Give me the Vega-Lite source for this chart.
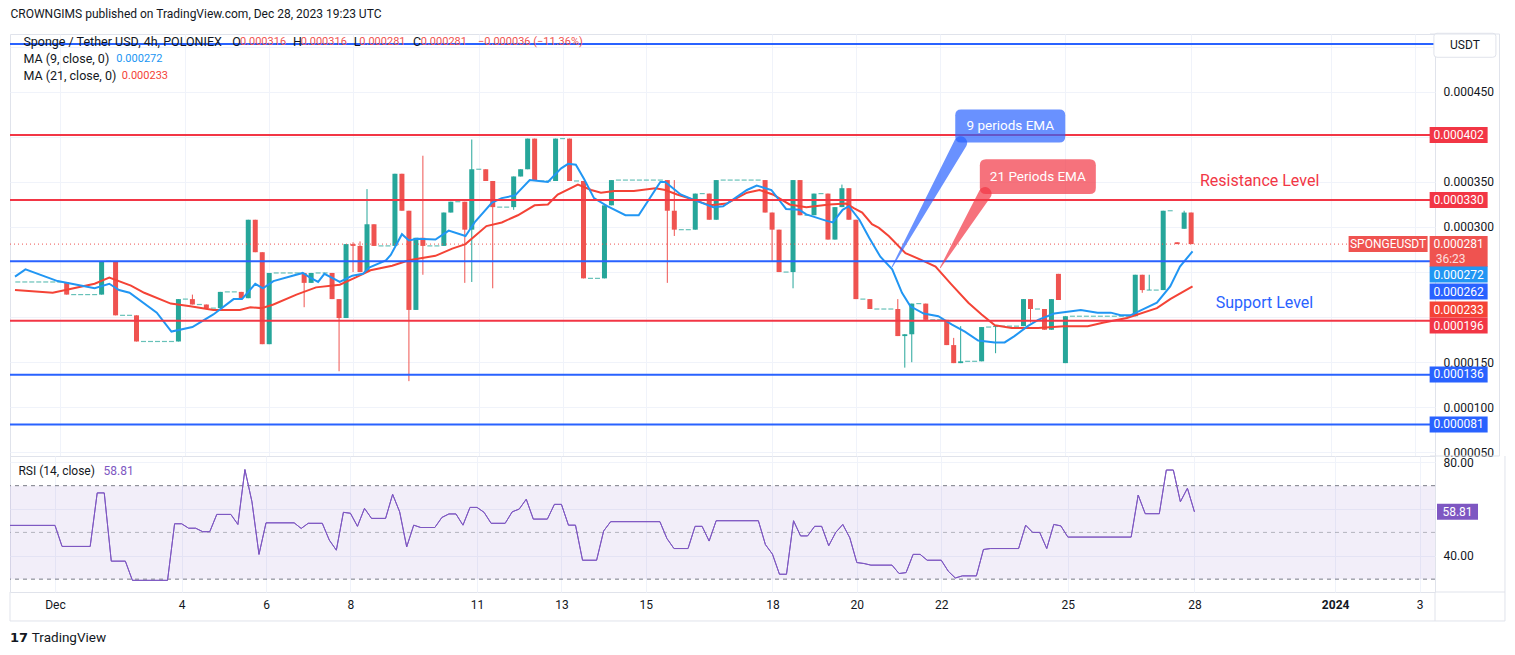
{
  "$schema": "https://vega.github.io/schema/vega-lite/v6.json",
  "background": "#ffffff",
  "padding": {"left": 7, "top": 7, "right": 0, "bottom": 0},
  "bounds": "flush",
  "title": {"text": "CROWNGIMS published on TradingView.com, Dec 28, 2023 19:23 UTC", "anchor": "start", "font": "Roboto", "fontSize": 12, "fontWeight": "normal", "color": "#131722", "offset": 10, "dx": 3},
  "config": {
    "view": {"stroke": "#e0e3eb"},
    "text": {"font": "Roboto"},
    "axis": {"labelFont": "Roboto", "labelFontSize": 12, "labelColor": "#131722", "title": null}
  },
  "datasets": {
    "candles": [
      {"bar": -6, "o": 0.000239, "h": 0.000239, "l": 0.000239, "c": 0.000239},
      {"bar": -5, "o": 0.000239, "h": 0.000239, "l": 0.000239, "c": 0.000239},
      {"bar": -4, "o": 0.000239, "h": 0.000239, "l": 0.000239, "c": 0.000239},
      {"bar": -3, "o": 0.000239, "h": 0.000239, "l": 0.000239, "c": 0.000239},
      {"bar": -2, "o": 0.000239, "h": 0.000239, "l": 0.000239, "c": 0.000239},
      {"bar": -1, "o": 0.000239, "h": 0.000239, "l": 0.000239, "c": 0.000239},
      {"bar": 0, "o": 0.000239, "h": 0.000239, "l": 0.000239, "c": 0.000239},
      {"bar": 1, "o": 0.000239, "h": 0.000239, "l": 0.000225, "c": 0.000225},
      {"bar": 2, "o": 0.000225, "h": 0.000225, "l": 0.000225, "c": 0.000225},
      {"bar": 3, "o": 0.000225, "h": 0.000225, "l": 0.000225, "c": 0.000225},
      {"bar": 4, "o": 0.000225, "h": 0.000225, "l": 0.000225, "c": 0.000225},
      {"bar": 5, "o": 0.000225, "h": 0.000225, "l": 0.000225, "c": 0.000225},
      {"bar": 6, "o": 0.000225, "h": 0.000262, "l": 0.000225, "c": 0.000262},
      {"bar": 7, "o": 0.000262, "h": 0.000262, "l": 0.000262, "c": 0.000262},
      {"bar": 8, "o": 0.000262, "h": 0.000262, "l": 0.000202, "c": 0.000202},
      {"bar": 9, "o": 0.000202, "h": 0.000202, "l": 0.000202, "c": 0.000202},
      {"bar": 10, "o": 0.000202, "h": 0.000202, "l": 0.000202, "c": 0.000202},
      {"bar": 11, "o": 0.000202, "h": 0.000202, "l": 0.000173, "c": 0.000173},
      {"bar": 12, "o": 0.000173, "h": 0.000173, "l": 0.000173, "c": 0.000173},
      {"bar": 13, "o": 0.000173, "h": 0.000173, "l": 0.000173, "c": 0.000173},
      {"bar": 14, "o": 0.000173, "h": 0.000173, "l": 0.000173, "c": 0.000173},
      {"bar": 15, "o": 0.000173, "h": 0.000173, "l": 0.000173, "c": 0.000173},
      {"bar": 16, "o": 0.000173, "h": 0.000173, "l": 0.000173, "c": 0.000173},
      {"bar": 17, "o": 0.000173, "h": 0.00022, "l": 0.000173, "c": 0.00022},
      {"bar": 18, "o": 0.00022, "h": 0.00022, "l": 0.00022, "c": 0.00022},
      {"bar": 19, "o": 0.00022, "h": 0.000225, "l": 0.000214, "c": 0.000214},
      {"bar": 20, "o": 0.000214, "h": 0.000214, "l": 0.000214, "c": 0.000214},
      {"bar": 21, "o": 0.000214, "h": 0.000214, "l": 0.00021, "c": 0.00021},
      {"bar": 22, "o": 0.00021, "h": 0.00021, "l": 0.00021, "c": 0.00021},
      {"bar": 23, "o": 0.00021, "h": 0.000228, "l": 0.00021, "c": 0.000228},
      {"bar": 24, "o": 0.000228, "h": 0.000228, "l": 0.000228, "c": 0.000228},
      {"bar": 25, "o": 0.000228, "h": 0.000228, "l": 0.000228, "c": 0.000228},
      {"bar": 26, "o": 0.000228, "h": 0.000228, "l": 0.000221, "c": 0.000221},
      {"bar": 27, "o": 0.000221, "h": 0.000308, "l": 0.000221, "c": 0.000308},
      {"bar": 28, "o": 0.000308, "h": 0.000308, "l": 0.000272, "c": 0.000272},
      {"bar": 29, "o": 0.000272, "h": 0.000272, "l": 0.00017, "c": 0.00017},
      {"bar": 30, "o": 0.00017, "h": 0.000249, "l": 0.00017, "c": 0.000249},
      {"bar": 31, "o": 0.000249, "h": 0.000249, "l": 0.000249, "c": 0.000249},
      {"bar": 32, "o": 0.000249, "h": 0.000249, "l": 0.000249, "c": 0.000249},
      {"bar": 33, "o": 0.000249, "h": 0.000249, "l": 0.000249, "c": 0.000249},
      {"bar": 34, "o": 0.000249, "h": 0.000249, "l": 0.000249, "c": 0.000249},
      {"bar": 35, "o": 0.000249, "h": 0.000249, "l": 0.000211, "c": 0.000238},
      {"bar": 36, "o": 0.000238, "h": 0.000249, "l": 0.000238, "c": 0.000249},
      {"bar": 37, "o": 0.000249, "h": 0.000249, "l": 0.000249, "c": 0.000249},
      {"bar": 38, "o": 0.000249, "h": 0.000249, "l": 0.000249, "c": 0.000249},
      {"bar": 39, "o": 0.000249, "h": 0.000249, "l": 0.00022, "c": 0.00022},
      {"bar": 40, "o": 0.00022, "h": 0.00022, "l": 0.00014, "c": 0.000199},
      {"bar": 41, "o": 0.000199, "h": 0.000281, "l": 0.000199, "c": 0.000281},
      {"bar": 42, "o": 0.000281, "h": 0.000283, "l": 0.00025, "c": 0.000279},
      {"bar": 43, "o": 0.000279, "h": 0.000284, "l": 0.00025, "c": 0.00025},
      {"bar": 44, "o": 0.00025, "h": 0.000342, "l": 0.00025, "c": 0.000303},
      {"bar": 45, "o": 0.000303, "h": 0.000303, "l": 0.000279, "c": 0.000279},
      {"bar": 46, "o": 0.000279, "h": 0.000279, "l": 0.000279, "c": 0.000279},
      {"bar": 47, "o": 0.000279, "h": 0.000279, "l": 0.000279, "c": 0.000279},
      {"bar": 48, "o": 0.000279, "h": 0.000359, "l": 0.000279, "c": 0.000359},
      {"bar": 49, "o": 0.000359, "h": 0.000359, "l": 0.000318, "c": 0.000318},
      {"bar": 50, "o": 0.000318, "h": 0.000318, "l": 0.000129, "c": 0.000208},
      {"bar": 51, "o": 0.000208, "h": 0.000288, "l": 0.000208, "c": 0.000288},
      {"bar": 52, "o": 0.000288, "h": 0.000379, "l": 0.000247, "c": 0.000279},
      {"bar": 53, "o": 0.000279, "h": 0.000279, "l": 0.000279, "c": 0.000279},
      {"bar": 54, "o": 0.000279, "h": 0.000279, "l": 0.000279, "c": 0.000279},
      {"bar": 55, "o": 0.000279, "h": 0.000316, "l": 0.000279, "c": 0.000316},
      {"bar": 56, "o": 0.000316, "h": 0.000328, "l": 0.000316, "c": 0.000328},
      {"bar": 57, "o": 0.000328, "h": 0.000328, "l": 0.000328, "c": 0.000328},
      {"bar": 58, "o": 0.000328, "h": 0.000328, "l": 0.000238, "c": 0.000297},
      {"bar": 59, "o": 0.000297, "h": 0.000397, "l": 0.000239, "c": 0.000364},
      {"bar": 60, "o": 0.000364, "h": 0.000364, "l": 0.000364, "c": 0.000364},
      {"bar": 61, "o": 0.000364, "h": 0.000364, "l": 0.000351, "c": 0.000351},
      {"bar": 62, "o": 0.000351, "h": 0.000351, "l": 0.000232, "c": 0.000322},
      {"bar": 63, "o": 0.000322, "h": 0.000322, "l": 0.000322, "c": 0.000322},
      {"bar": 64, "o": 0.000322, "h": 0.000322, "l": 0.000322, "c": 0.000322},
      {"bar": 65, "o": 0.000322, "h": 0.000356, "l": 0.000319, "c": 0.000356},
      {"bar": 66, "o": 0.000356, "h": 0.000364, "l": 0.000356, "c": 0.000364},
      {"bar": 67, "o": 0.000364, "h": 0.000398, "l": 0.000364, "c": 0.000398},
      {"bar": 68, "o": 0.000398, "h": 0.000398, "l": 0.000351, "c": 0.000351},
      {"bar": 69, "o": 0.000351, "h": 0.000351, "l": 0.000351, "c": 0.000351},
      {"bar": 70, "o": 0.000351, "h": 0.000351, "l": 0.000351, "c": 0.000351},
      {"bar": 71, "o": 0.000351, "h": 0.000398, "l": 0.000351, "c": 0.000398},
      {"bar": 72, "o": 0.000398, "h": 0.000398, "l": 0.000398, "c": 0.000398},
      {"bar": 73, "o": 0.000398, "h": 0.000398, "l": 0.000351, "c": 0.000351},
      {"bar": 74, "o": 0.000351, "h": 0.000351, "l": 0.000351, "c": 0.000351},
      {"bar": 75, "o": 0.000351, "h": 0.000351, "l": 0.000243, "c": 0.000243},
      {"bar": 76, "o": 0.000243, "h": 0.000243, "l": 0.000243, "c": 0.000243},
      {"bar": 77, "o": 0.000243, "h": 0.000243, "l": 0.000243, "c": 0.000243},
      {"bar": 78, "o": 0.000243, "h": 0.000324, "l": 0.000243, "c": 0.000324},
      {"bar": 79, "o": 0.000324, "h": 0.000352, "l": 0.000324, "c": 0.000352},
      {"bar": 80, "o": 0.000352, "h": 0.000352, "l": 0.000352, "c": 0.000352},
      {"bar": 81, "o": 0.000352, "h": 0.000352, "l": 0.000352, "c": 0.000352},
      {"bar": 82, "o": 0.000352, "h": 0.000352, "l": 0.000352, "c": 0.000352},
      {"bar": 83, "o": 0.000352, "h": 0.000352, "l": 0.000352, "c": 0.000352},
      {"bar": 84, "o": 0.000352, "h": 0.000352, "l": 0.000352, "c": 0.000352},
      {"bar": 85, "o": 0.000352, "h": 0.000352, "l": 0.000352, "c": 0.000352},
      {"bar": 86, "o": 0.000352, "h": 0.000352, "l": 0.000352, "c": 0.000352},
      {"bar": 87, "o": 0.000352, "h": 0.000352, "l": 0.000238, "c": 0.000318},
      {"bar": 88, "o": 0.000318, "h": 0.000352, "l": 0.00029, "c": 0.000297},
      {"bar": 89, "o": 0.000297, "h": 0.000297, "l": 0.000297, "c": 0.000297},
      {"bar": 90, "o": 0.000297, "h": 0.000297, "l": 0.000297, "c": 0.000297},
      {"bar": 91, "o": 0.000297, "h": 0.000337, "l": 0.000297, "c": 0.000337},
      {"bar": 92, "o": 0.000337, "h": 0.000337, "l": 0.000337, "c": 0.000337},
      {"bar": 93, "o": 0.000337, "h": 0.000337, "l": 0.000308, "c": 0.000308},
      {"bar": 94, "o": 0.000308, "h": 0.000352, "l": 0.000308, "c": 0.000352},
      {"bar": 95, "o": 0.000352, "h": 0.000352, "l": 0.000352, "c": 0.000352},
      {"bar": 96, "o": 0.000352, "h": 0.000352, "l": 0.000352, "c": 0.000352},
      {"bar": 97, "o": 0.000352, "h": 0.000352, "l": 0.000352, "c": 0.000352},
      {"bar": 98, "o": 0.000352, "h": 0.000352, "l": 0.000352, "c": 0.000352},
      {"bar": 99, "o": 0.000352, "h": 0.000352, "l": 0.000352, "c": 0.000352},
      {"bar": 100, "o": 0.000352, "h": 0.000352, "l": 0.000352, "c": 0.000352},
      {"bar": 101, "o": 0.000352, "h": 0.000352, "l": 0.000316, "c": 0.000316},
      {"bar": 102, "o": 0.000316, "h": 0.000316, "l": 0.000262, "c": 0.000297},
      {"bar": 103, "o": 0.000297, "h": 0.000297, "l": 0.00025, "c": 0.00025},
      {"bar": 104, "o": 0.00025, "h": 0.00025, "l": 0.00025, "c": 0.00025},
      {"bar": 105, "o": 0.00025, "h": 0.000352, "l": 0.000232, "c": 0.000352},
      {"bar": 106, "o": 0.000352, "h": 0.000352, "l": 0.000313, "c": 0.000313},
      {"bar": 107, "o": 0.000313, "h": 0.000313, "l": 0.000313, "c": 0.000313},
      {"bar": 108, "o": 0.000313, "h": 0.000337, "l": 0.000313, "c": 0.000337},
      {"bar": 109, "o": 0.000337, "h": 0.000337, "l": 0.000337, "c": 0.000337},
      {"bar": 110, "o": 0.000337, "h": 0.000337, "l": 0.000286, "c": 0.000286},
      {"bar": 111, "o": 0.000286, "h": 0.000322, "l": 0.000286, "c": 0.000322},
      {"bar": 112, "o": 0.000322, "h": 0.000347, "l": 0.000322, "c": 0.000343},
      {"bar": 113, "o": 0.000343, "h": 0.000343, "l": 0.000308, "c": 0.000308},
      {"bar": 114, "o": 0.000308, "h": 0.000308, "l": 0.00022, "c": 0.00022},
      {"bar": 115, "o": 0.00022, "h": 0.00022, "l": 0.00022, "c": 0.00022},
      {"bar": 116, "o": 0.00022, "h": 0.00022, "l": 0.000209, "c": 0.000209},
      {"bar": 117, "o": 0.000209, "h": 0.000209, "l": 0.000209, "c": 0.000209},
      {"bar": 118, "o": 0.000209, "h": 0.000209, "l": 0.000209, "c": 0.000209},
      {"bar": 119, "o": 0.000209, "h": 0.000209, "l": 0.000209, "c": 0.000209},
      {"bar": 120, "o": 0.000209, "h": 0.00022, "l": 0.000179, "c": 0.000179},
      {"bar": 121, "o": 0.000179, "h": 0.000181, "l": 0.000144, "c": 0.000181},
      {"bar": 122, "o": 0.000181, "h": 0.000215, "l": 0.00015, "c": 0.000215},
      {"bar": 123, "o": 0.000215, "h": 0.000215, "l": 0.000215, "c": 0.000215},
      {"bar": 124, "o": 0.000215, "h": 0.000215, "l": 0.000197, "c": 0.000197},
      {"bar": 125, "o": 0.000197, "h": 0.000197, "l": 0.000197, "c": 0.000197},
      {"bar": 126, "o": 0.000197, "h": 0.000197, "l": 0.000197, "c": 0.000197},
      {"bar": 127, "o": 0.000197, "h": 0.000197, "l": 0.000169, "c": 0.000169},
      {"bar": 128, "o": 0.000169, "h": 0.000177, "l": 0.000149, "c": 0.000149},
      {"bar": 129, "o": 0.000149, "h": 0.00019, "l": 0.000149, "c": 0.000151},
      {"bar": 130, "o": 0.000151, "h": 0.000151, "l": 0.000151, "c": 0.000151},
      {"bar": 131, "o": 0.000151, "h": 0.000151, "l": 0.000151, "c": 0.000151},
      {"bar": 132, "o": 0.000151, "h": 0.000189, "l": 0.000151, "c": 0.000189},
      {"bar": 133, "o": 0.000189, "h": 0.000189, "l": 0.000189, "c": 0.000189},
      {"bar": 134, "o": 0.000189, "h": 0.00019, "l": 0.00016, "c": 0.00019},
      {"bar": 135, "o": 0.00019, "h": 0.00019, "l": 0.00019, "c": 0.00019},
      {"bar": 136, "o": 0.00019, "h": 0.00019, "l": 0.00019, "c": 0.00019},
      {"bar": 137, "o": 0.00019, "h": 0.00019, "l": 0.00019, "c": 0.00019},
      {"bar": 138, "o": 0.00019, "h": 0.00022, "l": 0.00019, "c": 0.00022},
      {"bar": 139, "o": 0.00022, "h": 0.00022, "l": 0.000194, "c": 0.000209},
      {"bar": 140, "o": 0.000209, "h": 0.000209, "l": 0.000209, "c": 0.000209},
      {"bar": 141, "o": 0.000209, "h": 0.000209, "l": 0.000186, "c": 0.000186},
      {"bar": 142, "o": 0.000186, "h": 0.00022, "l": 0.000186, "c": 0.00022},
      {"bar": 143, "o": 0.000248, "h": 0.000248, "l": 0.000219, "c": 0.000219},
      {"bar": 144, "o": 0.000149, "h": 0.000201, "l": 0.000149, "c": 0.000201},
      {"bar": 145, "o": 0.000201, "h": 0.000201, "l": 0.000201, "c": 0.000201},
      {"bar": 146, "o": 0.000201, "h": 0.000201, "l": 0.000201, "c": 0.000201},
      {"bar": 147, "o": 0.000201, "h": 0.000201, "l": 0.000201, "c": 0.000201},
      {"bar": 148, "o": 0.000201, "h": 0.000201, "l": 0.000201, "c": 0.000201},
      {"bar": 149, "o": 0.000201, "h": 0.000201, "l": 0.000201, "c": 0.000201},
      {"bar": 150, "o": 0.000201, "h": 0.000201, "l": 0.000201, "c": 0.000201},
      {"bar": 151, "o": 0.000201, "h": 0.000201, "l": 0.000201, "c": 0.000201},
      {"bar": 152, "o": 0.000201, "h": 0.000201, "l": 0.000201, "c": 0.000201},
      {"bar": 153, "o": 0.000201, "h": 0.000201, "l": 0.000201, "c": 0.000201},
      {"bar": 154, "o": 0.000201, "h": 0.000247, "l": 0.000201, "c": 0.000247},
      {"bar": 155, "o": 0.000247, "h": 0.000247, "l": 0.000227, "c": 0.00023},
      {"bar": 156, "o": 0.00023, "h": 0.000247, "l": 0.00023, "c": 0.00023},
      {"bar": 157, "o": 0.00023, "h": 0.00023, "l": 0.00023, "c": 0.00023},
      {"bar": 158, "o": 0.00023, "h": 0.000318, "l": 0.00023, "c": 0.000318},
      {"bar": 159, "o": 0.000318, "h": 0.000318, "l": 0.000318, "c": 0.000318},
      {"bar": 160, "o": 0.000283, "h": 0.000283, "l": 0.000281, "c": 0.000281},
      {"bar": 161, "o": 0.000298, "h": 0.000318, "l": 0.000298, "c": 0.000316},
      {"bar": 162, "o": 0.000316, "h": 0.000316, "l": 0.000281, "c": 0.000281}
    ],
    "ma9": [
      {"bar": -6.4, "ma": 0.000245}, {"bar": -4.9, "ma": 0.000253}, {"bar": -0.3, "ma": 0.00024}, {"bar": 5.0, "ma": 0.000232},
      {"bar": 7.1, "ma": 0.000237}, {"bar": 8.5, "ma": 0.00023}, {"bar": 10.0, "ma": 0.000227}, {"bar": 13.9, "ma": 0.000205},
      {"bar": 16.0, "ma": 0.000184}, {"bar": 19.0, "ma": 0.000189}, {"bar": 22.0, "ma": 0.000203}, {"bar": 24.9, "ma": 0.00022},
      {"bar": 26.1, "ma": 0.00022}, {"bar": 28.0, "ma": 0.000237}, {"bar": 29.1, "ma": 0.000232}, {"bar": 30.6, "ma": 0.00024},
      {"bar": 34.8, "ma": 0.000249}, {"bar": 35.8, "ma": 0.000244}, {"bar": 37.0, "ma": 0.000239}, {"bar": 37.9, "ma": 0.000248},
      {"bar": 40.1, "ma": 0.000239}, {"bar": 41.9, "ma": 0.000246}, {"bar": 43.4, "ma": 0.000248}, {"bar": 44.3, "ma": 0.000255},
      {"bar": 46.7, "ma": 0.000263}, {"bar": 47.4, "ma": 0.000269}, {"bar": 49.0, "ma": 0.000292}, {"bar": 50.0, "ma": 0.000285},
      {"bar": 51.2, "ma": 0.000287}, {"bar": 53.8, "ma": 0.000286}, {"bar": 55.7, "ma": 0.000296}, {"bar": 58.1, "ma": 0.00029},
      {"bar": 59.5, "ma": 0.000306}, {"bar": 61.9, "ma": 0.000327}, {"bar": 63.3, "ma": 0.000332}, {"bar": 65.2, "ma": 0.000335},
      {"bar": 67.3, "ma": 0.000352}, {"bar": 69.9, "ma": 0.00035}, {"bar": 71.8, "ma": 0.000365}, {"bar": 72.8, "ma": 0.00037},
      {"bar": 73.9, "ma": 0.000369}, {"bar": 75.1, "ma": 0.000353}, {"bar": 76.5, "ma": 0.000332}, {"bar": 78.4, "ma": 0.000323},
      {"bar": 81.0, "ma": 0.000313}, {"bar": 82.9, "ma": 0.000313}, {"bar": 86.0, "ma": 0.00035}, {"bar": 86.7, "ma": 0.00035},
      {"bar": 88.9, "ma": 0.000336}, {"bar": 90.8, "ma": 0.00033}, {"bar": 93.6, "ma": 0.000322}, {"bar": 95.0, "ma": 0.000323},
      {"bar": 98.4, "ma": 0.000341}, {"bar": 99.8, "ma": 0.000346}, {"bar": 101.9, "ma": 0.000341}, {"bar": 104.0, "ma": 0.00032},
      {"bar": 105.9, "ma": 0.000319}, {"bar": 106.9, "ma": 0.000314}, {"bar": 109.7, "ma": 0.000307}, {"bar": 110.7, "ma": 0.000305},
      {"bar": 112.1, "ma": 0.000319}, {"bar": 113.0, "ma": 0.000323}, {"bar": 114.5, "ma": 0.000308}, {"bar": 115.9, "ma": 0.000288},
      {"bar": 117.5, "ma": 0.000267}, {"bar": 119.2, "ma": 0.000253}, {"bar": 120.6, "ma": 0.000227}, {"bar": 121.8, "ma": 0.000212},
      {"bar": 123.7, "ma": 0.000204}, {"bar": 125.8, "ma": 0.000201}, {"bar": 127.7, "ma": 0.000192}, {"bar": 129.6, "ma": 0.000184},
      {"bar": 131.5, "ma": 0.000174}, {"bar": 133.9, "ma": 0.000172}, {"bar": 135.3, "ma": 0.000172}, {"bar": 136.7, "ma": 0.000179},
      {"bar": 138.6, "ma": 0.00019}, {"bar": 140.1, "ma": 0.000197}, {"bar": 142.4, "ma": 0.000204}, {"bar": 146.2, "ma": 0.000208},
      {"bar": 148.6, "ma": 0.000205}, {"bar": 150.5, "ma": 0.000205}, {"bar": 151.9, "ma": 0.000202}, {"bar": 153.3, "ma": 0.000202},
      {"bar": 157.1, "ma": 0.000216}, {"bar": 159.0, "ma": 0.000234}, {"bar": 160.4, "ma": 0.000256}, {"bar": 162.2, "ma": 0.000273}
    ],
    "ma21": [
      {"bar": -6.4, "ma": 0.00023}, {"bar": -1.0, "ma": 0.000227}, {"bar": 5.0, "ma": 0.000237}, {"bar": 7.1, "ma": 0.000244},
      {"bar": 10.2, "ma": 0.000235}, {"bar": 12.1, "ma": 0.000227}, {"bar": 15.9, "ma": 0.000215}, {"bar": 18.7, "ma": 0.000212},
      {"bar": 22.0, "ma": 0.000208}, {"bar": 25.8, "ma": 0.000208}, {"bar": 27.3, "ma": 0.000211}, {"bar": 28.9, "ma": 0.00021},
      {"bar": 30.6, "ma": 0.000214}, {"bar": 33.9, "ma": 0.000225}, {"bar": 36.7, "ma": 0.000233}, {"bar": 40.1, "ma": 0.000236},
      {"bar": 42.4, "ma": 0.000244}, {"bar": 44.5, "ma": 0.000252}, {"bar": 47.6, "ma": 0.000257}, {"bar": 50.0, "ma": 0.000263},
      {"bar": 53.8, "ma": 0.000268}, {"bar": 56.2, "ma": 0.000276}, {"bar": 58.1, "ma": 0.000281}, {"bar": 61.1, "ma": 0.000301},
      {"bar": 63.3, "ma": 0.000305}, {"bar": 65.6, "ma": 0.000313}, {"bar": 68.0, "ma": 0.000324}, {"bar": 69.9, "ma": 0.000325},
      {"bar": 71.3, "ma": 0.000336}, {"bar": 74.2, "ma": 0.000347}, {"bar": 76.1, "ma": 0.000341}, {"bar": 77.5, "ma": 0.000338},
      {"bar": 79.4, "ma": 0.00034}, {"bar": 82.2, "ma": 0.00034}, {"bar": 85.3, "ma": 0.000343}, {"bar": 86.7, "ma": 0.000341},
      {"bar": 88.4, "ma": 0.000336}, {"bar": 90.8, "ma": 0.00033}, {"bar": 93.1, "ma": 0.000324}, {"bar": 95.5, "ma": 0.000326},
      {"bar": 98.4, "ma": 0.000338}, {"bar": 100.2, "ma": 0.000341}, {"bar": 102.1, "ma": 0.000336}, {"bar": 104.5, "ma": 0.000325},
      {"bar": 106.9, "ma": 0.000322}, {"bar": 110.2, "ma": 0.000325}, {"bar": 112.6, "ma": 0.000326}, {"bar": 113.7, "ma": 0.000321},
      {"bar": 114.9, "ma": 0.000316}, {"bar": 116.3, "ma": 0.000303}, {"bar": 117.3, "ma": 0.000299}, {"bar": 118.7, "ma": 0.00029},
      {"bar": 121.1, "ma": 0.000271}, {"bar": 123.5, "ma": 0.000263}, {"bar": 125.4, "ma": 0.000256}, {"bar": 127.7, "ma": 0.000236},
      {"bar": 130.1, "ma": 0.000216}, {"bar": 132.0, "ma": 0.000203}, {"bar": 133.9, "ma": 0.000191}, {"bar": 136.3, "ma": 0.000188},
      {"bar": 140.1, "ma": 0.000188}, {"bar": 143.8, "ma": 0.00019}, {"bar": 147.2, "ma": 0.00019}, {"bar": 149.5, "ma": 0.000194},
      {"bar": 152.8, "ma": 0.000199}, {"bar": 157.1, "ma": 0.00021}, {"bar": 159.0, "ma": 0.00022}, {"bar": 162.2, "ma": 0.000234}
    ],
    "rsi": [
      {"bar": -6.4, "rsi": 53.0}, {"bar": 0, "rsi": 53.0}, {"bar": 1, "rsi": 44.0}, {"bar": 5, "rsi": 44.0}, {"bar": 6, "rsi": 66.9},
      {"bar": 7, "rsi": 66.9}, {"bar": 8, "rsi": 37.7}, {"bar": 10, "rsi": 37.7}, {"bar": 11, "rsi": 29.5}, {"bar": 16, "rsi": 29.5},
      {"bar": 17, "rsi": 53.7}, {"bar": 18, "rsi": 53.7}, {"bar": 19, "rsi": 51.8}, {"bar": 20, "rsi": 51.8}, {"bar": 21, "rsi": 50.3},
      {"bar": 22, "rsi": 50.3}, {"bar": 23, "rsi": 57.7}, {"bar": 25, "rsi": 57.7}, {"bar": 26, "rsi": 53.4}, {"bar": 27, "rsi": 76.9},
      {"bar": 28, "rsi": 63.1}, {"bar": 29, "rsi": 40.6}, {"bar": 30, "rsi": 54.1}, {"bar": 34, "rsi": 54.1}, {"bar": 35, "rsi": 51.7},
      {"bar": 36, "rsi": 53.9}, {"bar": 38, "rsi": 53.9}, {"bar": 39, "rsi": 46.7}, {"bar": 40, "rsi": 42.4}, {"bar": 41, "rsi": 58.6},
      {"bar": 42, "rsi": 58.2}, {"bar": 43, "rsi": 52.6}, {"bar": 44, "rsi": 60.3}, {"bar": 45, "rsi": 56.0}, {"bar": 47, "rsi": 56.0},
      {"bar": 48, "rsi": 66.3}, {"bar": 49, "rsi": 58.8}, {"bar": 50, "rsi": 43.8}, {"bar": 51, "rsi": 53.1}, {"bar": 52, "rsi": 52.1},
      {"bar": 54, "rsi": 52.1}, {"bar": 55, "rsi": 56.4}, {"bar": 56, "rsi": 57.9}, {"bar": 57, "rsi": 57.9}, {"bar": 58, "rsi": 53.1},
      {"bar": 59, "rsi": 60.7}, {"bar": 60, "rsi": 60.7}, {"bar": 61, "rsi": 58.6}, {"bar": 62, "rsi": 53.9}, {"bar": 64, "rsi": 53.9},
      {"bar": 65, "rsi": 58.8}, {"bar": 66, "rsi": 60.0}, {"bar": 67, "rsi": 64.2}, {"bar": 68, "rsi": 55.7}, {"bar": 70, "rsi": 55.7},
      {"bar": 71, "rsi": 62.0}, {"bar": 72, "rsi": 62.0}, {"bar": 73, "rsi": 53.1}, {"bar": 74, "rsi": 53.1}, {"bar": 75, "rsi": 38.1},
      {"bar": 77, "rsi": 38.1}, {"bar": 78, "rsi": 50.6}, {"bar": 79, "rsi": 54.6}, {"bar": 86, "rsi": 54.6}, {"bar": 87, "rsi": 47.4},
      {"bar": 88, "rsi": 43.1}, {"bar": 90, "rsi": 43.1}, {"bar": 91, "rsi": 52.6}, {"bar": 92, "rsi": 52.6}, {"bar": 93, "rsi": 46.3},
      {"bar": 94, "rsi": 55.0}, {"bar": 100, "rsi": 55.0}, {"bar": 101, "rsi": 44.8}, {"bar": 102, "rsi": 40.7}, {"bar": 103, "rsi": 32.1},
      {"bar": 104, "rsi": 32.1}, {"bar": 105, "rsi": 55.0}, {"bar": 106, "rsi": 48.5}, {"bar": 107, "rsi": 48.5}, {"bar": 108, "rsi": 52.6},
      {"bar": 109, "rsi": 52.6}, {"bar": 110, "rsi": 44.3}, {"bar": 111, "rsi": 50.0}, {"bar": 112, "rsi": 53.4}, {"bar": 113, "rsi": 47.7},
      {"bar": 114, "rsi": 37.1}, {"bar": 115, "rsi": 36.7}, {"bar": 116, "rsi": 36.0}, {"bar": 119, "rsi": 36.0}, {"bar": 120, "rsi": 32.4},
      {"bar": 121, "rsi": 32.8}, {"bar": 122, "rsi": 40.6}, {"bar": 123, "rsi": 40.6}, {"bar": 124, "rsi": 38.1}, {"bar": 126, "rsi": 38.1},
      {"bar": 127, "rsi": 33.4}, {"bar": 128, "rsi": 30.5}, {"bar": 129, "rsi": 31.4}, {"bar": 131, "rsi": 31.4}, {"bar": 132, "rsi": 42.7},
      {"bar": 133, "rsi": 43.1}, {"bar": 137, "rsi": 43.1}, {"bar": 138, "rsi": 53.1}, {"bar": 139, "rsi": 50.0}, {"bar": 140, "rsi": 50.0},
      {"bar": 141, "rsi": 43.1}, {"bar": 142, "rsi": 53.4}, {"bar": 143, "rsi": 52.8}, {"bar": 144, "rsi": 48.0}, {"bar": 153, "rsi": 48.0},
      {"bar": 154, "rsi": 66.0}, {"bar": 155, "rsi": 58.0}, {"bar": 157, "rsi": 58.0}, {"bar": 158, "rsi": 76.7}, {"bar": 159, "rsi": 76.7},
      {"bar": 160, "rsi": 63.1}, {"bar": 161, "rsi": 68.9}, {"bar": 162, "rsi": 58.81}
    ],
    "levels": [
      {"price": 0.000503, "kind": "sup"}, {"price": 0.000402, "kind": "res"}, {"price": 0.00033, "kind": "res"},
      {"price": 0.000262, "kind": "sup"}, {"price": 0.000196, "kind": "res"}, {"price": 0.000136, "kind": "sup"},
      {"price": 0.000081, "kind": "sup"}
    ],
    "tags": [
      {"value": 0.000402, "at": 0.000402, "kind": "res"}, {"value": 0.00033, "at": 0.00033, "kind": "res"},
      {"value": 0.000272, "at": 0.0002472, "kind": "ma9"}, {"value": 0.000262, "at": 0.0002284, "kind": "sup"},
      {"value": 0.000233, "at": 0.0002084, "kind": "ma21"}, {"value": 0.000196, "at": 0.0001907, "kind": "res"},
      {"value": 0.000136, "at": 0.0001364, "kind": "sup"}, {"value": 0.000081, "at": 0.000081, "kind": "sup"}
    ],
    "last": [{"symbol": "SPONGEUSDT", "close": 0.000281, "countdown": "36:23"}],
    "notes": [
      {"text": "9 periods EMA", "bar": 136.1, "price": 0.000412, "kind": "sup"},
      {"text": "21 Periods EMA", "bar": 140.05, "price": 0.0003558, "kind": "res"}
    ],
    "tails": [
      {"note": "9", "bar": 119.2, "price": 0.000256, "end": 0, "kind": "sup"},
      {"note": "9", "bar": 129.0, "price": 0.0003934, "end": 1, "kind": "sup"},
      {"note": "21", "bar": 126.1, "price": 0.000255, "end": 0, "kind": "res"},
      {"note": "21", "bar": 132.5, "price": 0.000337, "end": 1, "kind": "res"}
    ],
    "zones": [
      {"text": "Resistance Level", "bar": 171.8, "price": 0.0003514, "kind": "res"},
      {"text": "Support Level", "bar": 172.5, "price": 0.000216, "kind": "sup"}
    ],
    "legend": [
      {"text": "Sponge / Tether USD, 4h, POLONIEX", "bar": -5.2, "price": 0.0005054, "kind": "label"},
      {"text": "O", "bar": 24.7, "price": 0.0005054, "kind": "label"},
      {"text": "0.000316", "bar": 25.8, "price": 0.0005054, "kind": "last"},
      {"text": "H", "bar": 33.4, "price": 0.0005054, "kind": "label"},
      {"text": "0.000316", "bar": 34.5, "price": 0.0005054, "kind": "last"},
      {"text": "L", "bar": 42.1, "price": 0.0005054, "kind": "label"},
      {"text": "0.000281", "bar": 42.9, "price": 0.0005054, "kind": "last"},
      {"text": "C", "bar": 50.6, "price": 0.0005054, "kind": "label"},
      {"text": "0.000281", "bar": 51.7, "price": 0.0005054, "kind": "last"},
      {"text": "−0.000036 (−11.36%)", "bar": 59.9, "price": 0.0005054, "kind": "last"},
      {"text": "MA (9, close, 0)", "bar": -5.2, "price": 0.0004862, "kind": "label"},
      {"text": "0.000272", "bar": 8.1, "price": 0.0004862, "kind": "ma9"},
      {"text": "MA (21, close, 0)", "bar": -5.2, "price": 0.0004677, "kind": "label"},
      {"text": "0.000233", "bar": 8.9, "price": 0.0004677, "kind": "ma21"}
    ],
    "rsiLegend": [
      {"text": "RSI (14, close)", "bar": -5.2, "rsi": 76.4, "kind": "label"},
      {"text": "58.81", "bar": 6.9, "rsi": 76.4, "kind": "rsi"}
    ]
  },
  "spacing": 0,
  "vconcat": [
    {
      "width": 1425,
      "height": 422,
      "layer": [
        {
          "data": {"name": "candles"},
          "mark": {"type": "rule", "strokeWidth": 1},
          "encoding": {
            "x": {"field": "bar", "type": "quantitative", "title": null, "scale": {"domain": [-6.4, 196.2], "nice": false, "zero": false},
              "axis": {"orient": "bottom", "values": [0, 18, 30, 42, 60, 72, 84, 102, 114, 126, 144, 162, 182, 194], "labels": false, "ticks": false, "domain": false, "grid": true, "gridColor": "#f0f3fa"}},
            "y": {"field": "l", "type": "quantitative", "title": null, "scale": {"domain": [0.000046, 0.000514], "nice": false, "zero": false},
              "axis": {"orient": "right", "values": [0.00005, 0.0001, 0.00015, 0.0002, 0.00025, 0.0003, 0.00035, 0.0004, 0.00045, 0.0005], "labelExpr": "(datum.value > 0.00019 && datum.value < 0.00026) || (datum.value > 0.00039 && datum.value < 0.00041) || datum.value > 0.00049 ? '' : format(datum.value, '.6f')", "labelAlign": "left", "labelPadding": 8, "labelFlush": false, "ticks": false, "domain": false, "grid": true, "gridColor": "#f0f3fa"}},
            "y2": {"field": "h"},
            "color": {"condition": {"test": "datum.c >= datum.o", "value": "#26a69a"}, "value": "#ef5350"}
          }
        },
        {
          "data": {"name": "candles"},
          "mark": {"type": "bar", "width": 5},
          "encoding": {
            "x": {"field": "bar", "type": "quantitative", "title": null, "scale": {"domain": [-6.4, 196.2], "nice": false, "zero": false}},
            "y": {"field": "o", "type": "quantitative", "title": null, "scale": {"domain": [0.000046, 0.000514], "nice": false, "zero": false}},
            "y2": {"field": "c"},
            "color": {"condition": {"test": "datum.c >= datum.o", "value": "#26a69a"}, "value": "#ef5350"}
          }
        },
        {
          "data": {"name": "candles"},
          "transform": [{"filter": "datum.o === datum.c"}],
          "mark": {"type": "tick", "orient": "horizontal", "size": 5, "thickness": 1.2, "color": "#26a69a"},
          "encoding": {
            "x": {"field": "bar", "type": "quantitative", "title": null, "scale": {"domain": [-6.4, 196.2], "nice": false, "zero": false}},
            "y": {"field": "c", "type": "quantitative", "title": null, "scale": {"domain": [0.000046, 0.000514], "nice": false, "zero": false}}
          }
        },
        {
          "data": {"name": "ma21"},
          "mark": {"type": "line", "color": "#f44336", "strokeWidth": 2},
          "encoding": {
            "x": {"field": "bar", "type": "quantitative", "title": null, "scale": {"domain": [-6.4, 196.2], "nice": false, "zero": false}},
            "y": {"field": "ma", "type": "quantitative", "title": null, "scale": {"domain": [0.000046, 0.000514], "nice": false, "zero": false}}
          }
        },
        {
          "data": {"name": "ma9"},
          "mark": {"type": "line", "color": "#2196f3", "strokeWidth": 2},
          "encoding": {
            "x": {"field": "bar", "type": "quantitative", "title": null, "scale": {"domain": [-6.4, 196.2], "nice": false, "zero": false}},
            "y": {"field": "ma", "type": "quantitative", "title": null, "scale": {"domain": [0.000046, 0.000514], "nice": false, "zero": false}}
          }
        },
        {
          "data": {"name": "levels"},
          "mark": {"type": "rule", "strokeWidth": 2},
          "encoding": {
            "y": {"field": "price", "type": "quantitative", "title": null, "scale": {"domain": [0.000046, 0.000514], "nice": false, "zero": false}},
            "color": {"field": "kind", "type": "nominal", "legend": null, "scale": {"domain": ["res", "sup", "ma9", "ma21", "label", "last", "rsi"], "range": ["#f23645", "#2962ff", "#2196f3", "#f44336", "#131722", "#ef5350", "#7e57c2"]}}
          }
        },
        {
          "data": {"name": "last"},
          "mark": {"type": "rule", "strokeWidth": 1, "strokeDash": [1, 3], "color": "#ef5350"},
          "encoding": {
            "y": {"field": "close", "type": "quantitative", "title": null, "scale": {"domain": [0.000046, 0.000514], "nice": false, "zero": false}}
          }
        },
        {
          "data": {"name": "tails"},
          "mark": {"type": "trail", "opacity": 0.7},
          "encoding": {
            "x": {"field": "bar", "type": "quantitative", "title": null, "scale": {"domain": [-6.4, 196.2], "nice": false, "zero": false}},
            "y": {"field": "price", "type": "quantitative", "title": null, "scale": {"domain": [0.000046, 0.000514], "nice": false, "zero": false}},
            "size": {"field": "end", "type": "quantitative", "legend": null, "scale": {"domain": [0, 1], "range": [1, 13]}},
            "detail": {"field": "note"},
            "color": {"field": "kind", "type": "nominal", "legend": null, "scale": {"domain": ["res", "sup", "ma9", "ma21", "label", "last", "rsi"], "range": ["#f23645", "#2962ff", "#2196f3", "#f44336", "#131722", "#ef5350", "#7e57c2"]}}
          }
        },
        {
          "data": {"name": "notes"},
          "mark": {"type": "point", "filled": true, "opacity": 0.7, "shape": "M-0.894,-0.301H0.894Q1,-0.301 1,-0.195V0.195Q1,0.301 0.894,0.301H-0.894Q-1,0.301 -1,0.195V-0.195Q-1,-0.301 -0.894,-0.301Z"},
          "encoding": {
            "x": {"field": "bar", "type": "quantitative", "title": null, "scale": {"domain": [-6.4, 196.2], "nice": false, "zero": false}},
            "y": {"field": "price", "type": "quantitative", "title": null, "scale": {"domain": [0.000046, 0.000514], "nice": false, "zero": false}},
            "size": {"condition": {"test": "datum.kind === 'res'", "value": 13456}, "value": 12100},
            "color": {"field": "kind", "type": "nominal", "legend": null, "scale": {"domain": ["res", "sup", "ma9", "ma21", "label", "last", "rsi"], "range": ["#f23645", "#2962ff", "#2196f3", "#f44336", "#131722", "#ef5350", "#7e57c2"]}}
          }
        },
        {
          "data": {"name": "notes"},
          "mark": {"type": "text", "color": "#ffffff", "fontSize": 13.5, "align": "center", "baseline": "middle"},
          "encoding": {
            "x": {"field": "bar", "type": "quantitative", "title": null, "scale": {"domain": [-6.4, 196.2], "nice": false, "zero": false}},
            "y": {"field": "price", "type": "quantitative", "title": null, "scale": {"domain": [0.000046, 0.000514], "nice": false, "zero": false}},
            "text": {"field": "text"}
          }
        },
        {
          "data": {"name": "zones"},
          "mark": {"type": "text", "fontSize": 16, "align": "center", "baseline": "middle"},
          "encoding": {
            "x": {"field": "bar", "type": "quantitative", "title": null, "scale": {"domain": [-6.4, 196.2], "nice": false, "zero": false}},
            "y": {"field": "price", "type": "quantitative", "title": null, "scale": {"domain": [0.000046, 0.000514], "nice": false, "zero": false}},
            "text": {"field": "text"},
            "color": {"field": "kind", "type": "nominal", "legend": null, "scale": {"domain": ["res", "sup", "ma9", "ma21", "label", "last", "rsi"], "range": ["#f23645", "#2962ff", "#2196f3", "#f44336", "#131722", "#ef5350", "#7e57c2"]}}
          }
        },
        {
          "data": {"name": "legend"},
          "mark": {"type": "text", "align": "left", "baseline": "middle"},
          "encoding": {
            "x": {"field": "bar", "type": "quantitative", "title": null, "scale": {"domain": [-6.4, 196.2], "nice": false, "zero": false}},
            "y": {"field": "price", "type": "quantitative", "title": null, "scale": {"domain": [0.000046, 0.000514], "nice": false, "zero": false}},
            "text": {"field": "text"},
            "size": {"condition": {"test": "datum.kind !== 'label'", "value": 11}, "value": 12.5},
            "color": {"field": "kind", "type": "nominal", "legend": null, "scale": {"domain": ["res", "sup", "ma9", "ma21", "label", "last", "rsi"], "range": ["#f23645", "#2962ff", "#2196f3", "#f44336", "#131722", "#ef5350", "#7e57c2"]}}
          }
        },
        {
          "data": {"name": "last"},
          "mark": {"type": "point", "filled": true, "opacity": 1, "color": "#ef5350", "size": 6241, "shape": "M-1,-0.2025H1V0.2025H-1Z"},
          "encoding": {
            "x": {"datum": 190.2, "type": "quantitative", "title": null, "scale": {"domain": [-6.4, 196.2], "nice": false, "zero": false}},
            "y": {"field": "close", "type": "quantitative", "title": null, "scale": {"domain": [0.000046, 0.000514], "nice": false, "zero": false}}
          }
        },
        {
          "data": {"name": "last"},
          "mark": {"type": "text", "color": "#ffffff", "fontSize": 12, "align": "center", "baseline": "middle"},
          "encoding": {
            "x": {"datum": 190.2, "type": "quantitative", "title": null, "scale": {"domain": [-6.4, 196.2], "nice": false, "zero": false}},
            "y": {"field": "close", "type": "quantitative", "title": null, "scale": {"domain": [0.000046, 0.000514], "nice": false, "zero": false}},
            "text": {"field": "symbol"}
          }
        },
        {
          "data": {"name": "last"},
          "mark": {"type": "point", "filled": true, "opacity": 1, "color": "#ef5350", "size": 3364, "shape": "M-1,-0.283H1V0.786H-1Z"},
          "encoding": {
            "x": {"datum": 200.3, "type": "quantitative", "title": null, "scale": {"domain": [-6.4, 196.2], "nice": false, "zero": false}},
            "y": {"field": "close", "type": "quantitative", "title": null, "scale": {"domain": [0.000046, 0.000514], "nice": false, "zero": false}}
          }
        },
        {
          "data": {"name": "last"},
          "mark": {"type": "text", "color": "#ffffff", "fontSize": 12, "align": "center", "baseline": "middle"},
          "encoding": {
            "x": {"datum": 200.3, "type": "quantitative", "title": null, "scale": {"domain": [-6.4, 196.2], "nice": false, "zero": false}},
            "y": {"field": "close", "type": "quantitative", "title": null, "scale": {"domain": [0.000046, 0.000514], "nice": false, "zero": false}},
            "text": {"field": "close", "type": "quantitative", "format": ".6f"}
          }
        },
        {
          "data": {"name": "last"},
          "mark": {"type": "text", "color": "#ffffff", "opacity": 0.8, "fontSize": 12, "align": "center", "baseline": "middle", "dx": -8, "dy": 15},
          "encoding": {
            "x": {"datum": 200.3, "type": "quantitative", "title": null, "scale": {"domain": [-6.4, 196.2], "nice": false, "zero": false}},
            "y": {"field": "close", "type": "quantitative", "title": null, "scale": {"domain": [0.000046, 0.000514], "nice": false, "zero": false}},
            "text": {"field": "countdown"}
          }
        },
        {
          "data": {"name": "tags"},
          "mark": {"type": "point", "filled": true, "opacity": 1, "size": 3364, "shape": "M-1,-0.276H1V0.276H-1Z"},
          "encoding": {
            "x": {"datum": 200.3, "type": "quantitative", "title": null, "scale": {"domain": [-6.4, 196.2], "nice": false, "zero": false}},
            "y": {"field": "at", "type": "quantitative", "title": null, "scale": {"domain": [0.000046, 0.000514], "nice": false, "zero": false}},
            "color": {"field": "kind", "type": "nominal", "legend": null, "scale": {"domain": ["res", "sup", "ma9", "ma21", "label", "last", "rsi"], "range": ["#f23645", "#2962ff", "#2196f3", "#f44336", "#131722", "#ef5350", "#7e57c2"]}}
          }
        },
        {
          "data": {"name": "tags"},
          "mark": {"type": "text", "color": "#ffffff", "fontSize": 12, "align": "center", "baseline": "middle"},
          "encoding": {
            "x": {"datum": 200.3, "type": "quantitative", "title": null, "scale": {"domain": [-6.4, 196.2], "nice": false, "zero": false}},
            "y": {"field": "at", "type": "quantitative", "title": null, "scale": {"domain": [0.000046, 0.000514], "nice": false, "zero": false}},
            "text": {"field": "value", "type": "quantitative", "format": ".6f"}
          }
        },
        {
          "data": {"values": [{"unit": "USDT"}]},
          "mark": {"type": "point", "filled": true, "opacity": 1, "color": "#ffffff", "stroke": "#e0e3eb", "strokeWidth": 1, "size": 3844, "shape": "M-0.9,-0.387H0.9Q1,-0.387 1,-0.29V0.29Q1,0.387 0.9,0.387H-0.9Q-1,0.387 -1,0.29V-0.29Q-1,-0.387 -0.9,-0.387Z"},
          "encoding": {
            "x": {"datum": 201.2, "type": "quantitative", "title": null, "scale": {"domain": [-6.4, 196.2], "nice": false, "zero": false}},
            "y": {"datum": 0.0005015, "type": "quantitative", "title": null, "scale": {"domain": [0.000046, 0.000514], "nice": false, "zero": false}}
          }
        },
        {
          "data": {"values": [{"unit": "USDT"}]},
          "mark": {"type": "text", "color": "#131722", "fontSize": 12, "align": "center", "baseline": "middle"},
          "encoding": {
            "x": {"datum": 201.2, "type": "quantitative", "title": null, "scale": {"domain": [-6.4, 196.2], "nice": false, "zero": false}},
            "y": {"datum": 0.0005015, "type": "quantitative", "title": null, "scale": {"domain": [0.000046, 0.000514], "nice": false, "zero": false}},
            "text": {"field": "unit"}
          }
        },
        {
          "data": {"values": [{"edge": "top"}]},
          "mark": {"type": "rule", "color": "#e0e3eb", "strokeWidth": 1},
          "encoding": {
            "x": {"datum": 196.2, "type": "quantitative", "title": null, "scale": {"domain": [-6.4, 196.2], "nice": false, "zero": false}},
            "x2": {"datum": 206.15},
            "y": {"datum": 0.000514, "type": "quantitative", "title": null, "scale": {"domain": [0.000046, 0.000514], "nice": false, "zero": false}}
          }
        },
        {
          "data": {"values": [{"edge": "right"}]},
          "mark": {"type": "rule", "color": "#e0e3eb", "strokeWidth": 1},
          "encoding": {
            "x": {"datum": 206.15, "type": "quantitative", "title": null, "scale": {"domain": [-6.4, 196.2], "nice": false, "zero": false}},
            "y": {"datum": 0.000046, "type": "quantitative", "title": null, "scale": {"domain": [0.000046, 0.000514], "nice": false, "zero": false}},
            "y2": {"datum": 0.000514}
          }
        },
        {
          "data": {"values": [{"edge": "bottom"}]},
          "mark": {"type": "rule", "color": "#e0e3eb", "strokeWidth": 1},
          "encoding": {
            "x": {"datum": 196.2, "type": "quantitative", "title": null, "scale": {"domain": [-6.4, 196.2], "nice": false, "zero": false}},
            "x2": {"datum": 206.15},
            "y": {"datum": 0.000046, "type": "quantitative", "title": null, "scale": {"domain": [0.000046, 0.000514], "nice": false, "zero": false}}
          }
        }
      ]
    },
    {
      "width": 1425,
      "height": 136,
      "layer": [
        {
          "data": {"name": "rsi"},
          "mark": {"type": "line", "color": "#7e57c2", "strokeWidth": 1},
          "encoding": {
            "x": {"field": "bar", "type": "quantitative", "title": null, "scale": {"domain": [-6.4, 196.2], "nice": false, "zero": false},
              "axis": {"orient": "bottom", "values": [0, 18, 30, 42, 60, 72, 84, 102, 114, 126, 144, 162, 182, 194], "labelExpr": "datum.value==0?'Dec':datum.value==18?'4':datum.value==30?'6':datum.value==42?'8':datum.value==60?'11':datum.value==72?'13':datum.value==84?'15':datum.value==102?'18':datum.value==114?'20':datum.value==126?'22':datum.value==144?'25':datum.value==162?'28':datum.value==182?'2024':'3'", "labelFontWeight": {"condition": {"test": "datum.value === 182", "value": "bold"}, "value": "normal"}, "labelPadding": 7, "labelFlush": false, "ticks": false, "domain": false, "grid": true, "gridColor": "#f0f3fa"}},
            "y": {"field": "rsi", "type": "quantitative", "title": null, "scale": {"domain": [24.5, 82.7], "nice": false, "zero": false},
              "axis": {"orient": "right", "values": [40, 60, 80], "labelExpr": "datum.value == 60 ? '' : format(datum.value, '.2f')", "labelAlign": "left", "labelPadding": 8, "labelFlush": false, "ticks": false, "domain": false, "grid": true, "gridColor": "#f0f3fa"}}
          }
        },
        {
          "data": {"values": [{"lo": 30, "hi": 70}]},
          "mark": {"type": "rect", "color": "#7e57c2", "opacity": 0.1},
          "encoding": {
            "x": {"datum": -6.4, "type": "quantitative", "title": null, "scale": {"domain": [-6.4, 196.2], "nice": false, "zero": false}},
            "x2": {"datum": 196.2},
            "y": {"field": "lo", "type": "quantitative", "title": null, "scale": {"domain": [24.5, 82.7], "nice": false, "zero": false}},
            "y2": {"field": "hi"}
          }
        },
        {
          "data": {"values": [{"level": 70}, {"level": 50}, {"level": 30}]},
          "mark": {"type": "rule", "strokeWidth": 1, "strokeDash": [4, 4], "color": "#787b86"},
          "encoding": {
            "y": {"field": "level", "type": "quantitative", "title": null, "scale": {"domain": [24.5, 82.7], "nice": false, "zero": false}},
            "opacity": {"condition": {"test": "datum.level === 50", "value": 0.5}, "value": 1}
          }
        },
        {
          "data": {"name": "rsi"},
          "mark": {"type": "line", "color": "#7e57c2", "strokeWidth": 1},
          "encoding": {
            "x": {"field": "bar", "type": "quantitative", "title": null, "scale": {"domain": [-6.4, 196.2], "nice": false, "zero": false}},
            "y": {"field": "rsi", "type": "quantitative", "title": null, "scale": {"domain": [24.5, 82.7], "nice": false, "zero": false}}
          }
        },
        {
          "data": {"name": "rsiLegend"},
          "mark": {"type": "text", "fontSize": 12, "align": "left", "baseline": "middle"},
          "encoding": {
            "x": {"field": "bar", "type": "quantitative", "title": null, "scale": {"domain": [-6.4, 196.2], "nice": false, "zero": false}},
            "y": {"field": "rsi", "type": "quantitative", "title": null, "scale": {"domain": [24.5, 82.7], "nice": false, "zero": false}},
            "text": {"field": "text"},
            "color": {"field": "kind", "type": "nominal", "legend": null, "scale": {"domain": ["res", "sup", "ma9", "ma21", "label", "last", "rsi"], "range": ["#f23645", "#2962ff", "#2196f3", "#f44336", "#131722", "#ef5350", "#7e57c2"]}}
          }
        },
        {
          "data": {"values": [{"rsi": 58.81}]},
          "mark": {"type": "point", "filled": true, "opacity": 1, "color": "#7e57c2", "size": 1681, "shape": "M-1,-0.39H1V0.39H-1Z"},
          "encoding": {
            "x": {"datum": 199.4, "type": "quantitative", "title": null, "scale": {"domain": [-6.4, 196.2], "nice": false, "zero": false}},
            "y": {"field": "rsi", "type": "quantitative", "title": null, "scale": {"domain": [24.5, 82.7], "nice": false, "zero": false}}
          }
        },
        {
          "data": {"values": [{"rsi": 58.81}]},
          "mark": {"type": "text", "color": "#ffffff", "fontSize": 12, "align": "center", "baseline": "middle"},
          "encoding": {
            "x": {"datum": 199.4, "type": "quantitative", "title": null, "scale": {"domain": [-6.4, 196.2], "nice": false, "zero": false}},
            "y": {"field": "rsi", "type": "quantitative", "title": null, "scale": {"domain": [24.5, 82.7], "nice": false, "zero": false}},
            "text": {"field": "rsi", "type": "quantitative", "format": ".2f"}
          }
        },
        {
          "data": {"values": [{"edge": "right"}]},
          "mark": {"type": "rule", "color": "#e0e3eb", "strokeWidth": 1},
          "encoding": {
            "x": {"datum": 206.15, "type": "quantitative", "title": null, "scale": {"domain": [-6.4, 196.2], "nice": false, "zero": false}},
            "y": {"datum": 12.1, "type": "quantitative", "title": null, "scale": {"domain": [24.5, 82.7], "nice": false, "zero": false}},
            "y2": {"datum": 82.7}
          }
        },
        {
          "data": {"values": [{"edge": "bottom"}]},
          "mark": {"type": "rule", "color": "#e0e3eb", "strokeWidth": 1},
          "encoding": {
            "x": {"datum": -6.4, "type": "quantitative", "title": null, "scale": {"domain": [-6.4, 196.2], "nice": false, "zero": false}},
            "x2": {"datum": 206.15},
            "y": {"datum": 12.1, "type": "quantitative", "title": null, "scale": {"domain": [24.5, 82.7], "nice": false, "zero": false}}
          }
        },
        {
          "data": {"values": [{"edge": "axisrow"}]},
          "mark": {"type": "rule", "color": "#e0e3eb", "strokeWidth": 1},
          "encoding": {
            "x": {"datum": 196.2, "type": "quantitative", "title": null, "scale": {"domain": [-6.4, 196.2], "nice": false, "zero": false}},
            "x2": {"datum": 206.15},
            "y": {"datum": 24.5, "type": "quantitative", "title": null, "scale": {"domain": [24.5, 82.7], "nice": false, "zero": false}}
          }
        },
        {
          "data": {"values": [{"edge": "left"}]},
          "mark": {"type": "rule", "color": "#e0e3eb", "strokeWidth": 1},
          "encoding": {
            "x": {"datum": -6.4, "type": "quantitative", "title": null, "scale": {"domain": [-6.4, 196.2], "nice": false, "zero": false}},
            "y": {"datum": 12.1, "type": "quantitative", "title": null, "scale": {"domain": [24.5, 82.7], "nice": false, "zero": false}},
            "y2": {"datum": 24.5}
          }
        },
        {
          "data": {"values": [{"edge": "sep"}]},
          "mark": {"type": "rule", "color": "#e0e3eb", "strokeWidth": 1},
          "encoding": {
            "x": {"datum": 196.2, "type": "quantitative", "title": null, "scale": {"domain": [-6.4, 196.2], "nice": false, "zero": false}},
            "y": {"datum": 12.1, "type": "quantitative", "title": null, "scale": {"domain": [24.5, 82.7], "nice": false, "zero": false}},
            "y2": {"datum": 24.5}
          }
        },
        {
          "data": {"values": [{"brand": "TradingView"}]},
          "mark": {"type": "text", "color": "#131722", "fontSize": 13.5, "align": "left", "baseline": "middle"},
          "encoding": {
            "x": {"datum": -3.3, "type": "quantitative", "title": null, "scale": {"domain": [-6.4, 196.2], "nice": false, "zero": false}},
            "y": {"datum": 4.9, "type": "quantitative", "title": null, "scale": {"domain": [24.5, 82.7], "nice": false, "zero": false}},
            "text": {"field": "brand"}
          }
        },
        {
          "data": {"values": [{"logo": "17"}]},
          "mark": {"type": "text", "color": "#131722", "fontSize": 13, "fontWeight": 900, "align": "left", "baseline": "middle", "font": "DejaVu Sans"},
          "encoding": {
            "x": {"datum": -6.4, "type": "quantitative", "title": null, "scale": {"domain": [-6.4, 196.2], "nice": false, "zero": false}},
            "y": {"datum": 4.9, "type": "quantitative", "title": null, "scale": {"domain": [24.5, 82.7], "nice": false, "zero": false}},
            "text": {"field": "logo"}
          }
        }
      ]
    }
  ]
}
